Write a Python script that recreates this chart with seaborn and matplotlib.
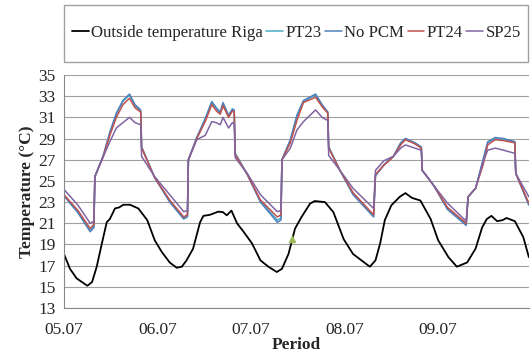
import numpy as np
import pandas as pd
import seaborn as sns
import matplotlib
matplotlib.use("Agg")
import matplotlib.pyplot as plt
from matplotlib.patches import Rectangle

# outdoor temperature, Riga (time in days from 05.07)
t_out = [0.00, 0.064, 0.135, 0.25, 0.30, 0.35, 0.40, 0.457, 0.49, 0.545, 0.59, 0.635, 0.706, 0.795,
         0.89, 0.97, 1.045, 1.13, 1.205, 1.26, 1.31, 1.38, 1.455, 1.49, 1.56, 1.65, 1.70, 1.74, 1.79,
         1.85, 1.92, 2.01, 2.10, 2.185, 2.275, 2.33, 2.40, 2.47, 2.54, 2.63, 2.68, 2.79, 2.88, 2.99,
         3.09, 3.18, 3.27, 3.33, 3.38, 3.43, 3.50, 3.59, 3.65, 3.72, 3.81, 3.92, 4.00, 4.11, 4.20,
         4.31, 4.40, 4.47, 4.52, 4.57, 4.63, 4.69, 4.73, 4.82, 4.91, 4.97]
outside = [18.1, 16.7, 15.8, 15.1, 15.45, 16.9, 18.9, 21.1, 21.4, 22.4, 22.5, 22.75, 22.75, 22.4,
           21.3, 19.4, 18.3, 17.3, 16.8, 16.9, 17.5, 18.6, 21.1, 21.7, 21.8, 22.1, 22.05, 21.75, 22.2,
           21.0, 20.2, 19.1, 17.5, 16.9, 16.4, 16.7, 18.1, 20.5, 21.6, 22.85, 23.1, 23.0, 22.05, 19.5,
           18.1, 17.5, 16.9, 17.5, 19.1, 21.3, 22.7, 23.5, 23.85, 23.4, 23.15, 21.4, 19.4, 17.8, 16.9,
           17.3, 18.6, 20.6, 21.4, 21.7, 21.2, 21.3, 21.5, 21.2, 19.7, 17.8]

# indoor temperatures
t_in = [0.00, 0.15, 0.28, 0.32, 0.33, 0.42, 0.49, 0.56, 0.63, 0.70, 0.76, 0.82, 0.83, 0.97, 1.13, 1.28, 1.32,
        1.33, 1.42, 1.51, 1.58, 1.63, 1.67, 1.70, 1.76, 1.80, 1.82, 1.83, 1.96, 2.10, 2.28, 2.32,
        2.33, 2.42, 2.49, 2.56, 2.69, 2.76, 2.82, 2.83, 2.95, 3.09, 3.31,
        3.33, 3.42, 3.49, 3.52, 3.60, 3.65, 3.75, 3.82, 3.83, 3.95, 4.10, 4.30,
        4.32, 4.40, 4.48, 4.53, 4.61, 4.70, 4.82, 4.83, 4.97]
no_pcm = [23.6, 22.0, 20.2, 20.6, 25.4, 27.4, 29.6, 31.4, 32.6, 33.2, 32.2, 31.7, 28.2, 25.3, 23.0, 21.4, 21.6,
          27.0, 29.1, 30.9, 32.5, 31.9, 31.5, 32.4, 31.2, 31.8, 31.7, 27.6, 25.6, 23.0, 21.1, 21.3,
          27.0, 28.9, 31.2, 32.6, 33.2, 32.2, 31.5, 28.2, 26.0, 23.7, 21.6,
          25.5, 26.5, 27.1, 27.3, 28.6, 29.0, 28.6, 28.2, 26.0, 24.6, 22.3, 20.8,
          23.5, 24.3, 27.0, 28.7, 29.1, 29.0, 28.7, 25.7, 22.7]
pt23 = [23.6, 22.0, 20.3, 20.7, 25.4, 27.4, 29.5, 31.3, 32.5, 33.1, 32.1, 31.6, 28.2, 25.3, 23.1, 21.5, 21.7,
        27.0, 29.1, 30.8, 32.4, 31.8, 31.4, 32.3, 31.1, 31.7, 31.6, 27.6, 25.6, 23.1, 21.3, 21.5,
        27.0, 28.8, 31.1, 32.5, 33.1, 32.1, 31.5, 28.2, 26.0, 23.8, 21.7,
        25.5, 26.5, 27.1, 27.3, 28.6, 29.0, 28.6, 28.2, 26.0, 24.6, 22.4, 20.9,
        23.5, 24.3, 26.9, 28.6, 29.0, 28.9, 28.7, 25.7, 22.8]
pt24 = [23.7, 22.2, 20.5, 20.9, 25.4, 27.3, 29.3, 31.0, 32.2, 32.8, 31.9, 31.5, 28.1, 25.3, 23.2, 21.6, 21.8,
        27.0, 29.0, 30.6, 32.2, 31.6, 31.3, 32.1, 31.0, 31.6, 31.5, 27.5, 25.6, 23.2, 21.6, 21.8,
        27.0, 28.6, 30.7, 32.4, 32.9, 32.0, 31.4, 28.1, 26.0, 23.9, 21.8,
        25.6, 26.5, 27.0, 27.3, 28.4, 28.9, 28.5, 28.1, 26.0, 24.6, 22.5, 21.0,
        23.5, 24.3, 26.5, 28.4, 28.9, 28.8, 28.6, 25.7, 22.9]
sp25 = [24.2, 22.7, 21.0, 21.2, 25.4, 27.3, 28.7, 30.0, 30.5, 31.0, 30.5, 30.3, 27.3, 25.4, 23.7, 22.1, 22.2,
        27.0, 28.9, 29.3, 30.6, 30.5, 30.3, 31.0, 30.0, 30.5, 30.4, 27.2, 25.7, 23.7, 22.1, 22.2,
        27.0, 28.1, 29.8, 30.6, 31.7, 31.0, 30.7, 27.4, 26.0, 24.3, 22.4,
        26.0, 26.9, 27.2, 27.3, 28.1, 28.4, 28.1, 27.9, 26.0, 24.6, 22.9, 21.2,
        23.5, 24.3, 26.8, 27.9, 28.1, 27.9, 27.6, 25.7, 23.5]

day_labels = ["05.07", "06.07", "07.07", "08.07", "09.07"]

sns.set_style("white")
plt.rcParams["font.family"] = ["Liberation Serif", "DejaVu Serif"]

fig = plt.figure(figsize=(5.31, 3.56), dpi=100)
ax = fig.add_axes([0.1205, 0.1348, 0.8755, 0.6545])

series = [
    ("Outside temperature Riga", t_out, outside, "black", 1.3),
    ("PT23", t_in, pt23, "#4BACC6", 1.1),
    ("No PCM", t_in, no_pcm, "#4F81BD", 1.1),
    ("PT24", t_in, pt24, "#C0504D", 1.1),
    ("SP25", t_in, sp25, "#8064A2", 1.1),
]
for name, tt, vals, col, lw in series:
    sns.lineplot(x=tt, y=vals, color=col, lw=lw, ax=ax, label=name,
                 estimator=None, sort=False)

# stray marker in the original
ax.plot([2.44], [19.5], marker="^", color="#9BBB59", ms=4, ls="none")

ax.set_xlim(0, 4.97)
ax.set_ylim(13, 35)
ax.set_yticks(range(13, 36, 2))
ax.set_xticks(range(5))
ax.set_xticklabels(day_labels)
ax.grid(axis="y", color="#a0a0a0", lw=0.8)
ax.set_axisbelow(True)
for s in ["top", "right"]:
    ax.spines[s].set_visible(False)
for s in ["left", "bottom"]:
    ax.spines[s].set_color("#888888")
    ax.spines[s].set_linewidth(0.8)
ax.tick_params(axis="both", labelsize=12.5, length=4, width=0.8, color="#888888",
               direction="out", pad=2)
ax.tick_params(axis="x", pad=6)
ax.set_xlabel("Period", fontsize=12.5, fontweight="bold", labelpad=-1)
ax.set_ylabel("Temperature (\u00b0C)", fontsize=12.5, fontweight="bold", labelpad=2)

handles, labels = ax.get_legend_handles_labels()
ax.legend_.remove()
fig.legend(handles[:5], labels[:5], loc="center", bbox_to_anchor=(0.558, 0.907),
           ncol=5, frameon=False, fontsize=12.1, handlelength=1.0, handletextpad=0.15,
           columnspacing=0.2, borderpad=0)
fig.patches.append(Rectangle((0.1205, 0.826), 0.874, 0.16, transform=fig.transFigure,
                             fill=False, edgecolor="#a0a0a0", lw=1.0))

fig.savefig("out.png", dpi=100)
